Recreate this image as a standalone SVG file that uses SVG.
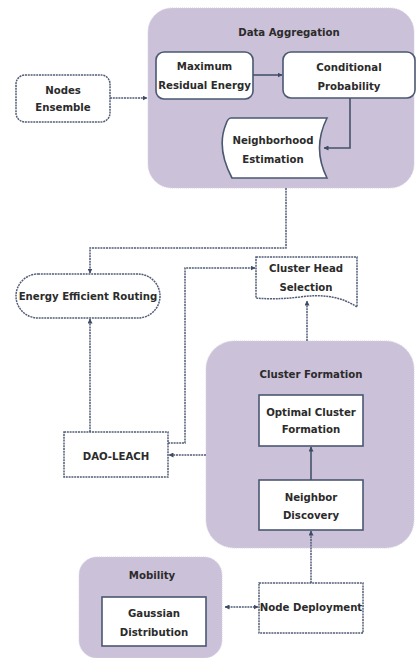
<svg xmlns="http://www.w3.org/2000/svg" width="416" height="658" viewBox="0 0 416 658">
<defs>
<style>
.grp{fill:#cbc1d9;stroke:#d6cfe0;stroke-width:1;stroke-dasharray:1 1}
.box{fill:#fff;stroke:#4a5872;stroke-width:1.6}
.dbox{fill:#fff;stroke:#525d77;stroke-width:1.5;stroke-dasharray:2 0.8}
.t{font-family:"DejaVu Sans Condensed","DejaVu Sans",sans-serif;font-weight:bold;font-size:11.3px;fill:#2b2b2b;text-anchor:middle}
.c{fill:none;stroke:#45526c;stroke-width:1.6}
.d{fill:none;stroke:#4f5b75;stroke-width:1.5;stroke-dasharray:2 0.8}
</style>
<marker id="ah" viewBox="0 0 10 10" refX="9" refY="5" markerWidth="5" markerHeight="5" orient="auto-start-reverse" markerUnits="userSpaceOnUse">
<path d="M0,0 L10,5 L0,10 Z" fill="#3e4b66"/>
</marker>
</defs>
<rect width="416" height="658" fill="#fff"/>

<g id="data-aggregation">
<rect class="grp" x="148" y="8" width="266" height="180" rx="24"/>
<text class="t" x="289" y="36">Data Aggregation</text>
</g>
<g id="cluster-formation">
<rect class="grp" x="206" y="341" width="208" height="207" rx="28"/>
<text class="t" x="311" y="378">Cluster Formation</text>
</g>
<g id="mobility">
<rect class="grp" x="79" y="557" width="143" height="101" rx="18"/>
<text class="t" x="152" y="579">Mobility</text>
</g>

<g id="nodes-ensemble">
<rect class="dbox" x="16" y="75" width="94" height="47" rx="9"/>
<text class="t" x="63" y="94">Nodes</text>
<text class="t" x="63" y="111">Ensemble</text>
</g>
<g id="max-residual-energy">
<rect class="box" x="156" y="52" width="97" height="47" rx="8"/>
<text class="t" x="204.5" y="70">Maximum</text>
<text class="t" x="204.5" y="89">Residual Energy</text>
</g>
<g id="conditional-probability">
<rect class="box" x="283" y="52" width="132" height="46" rx="8"/>
<text class="t" x="349" y="71">Conditional</text>
<text class="t" x="349" y="90">Probability</text>
</g>
<g id="neighborhood-estimation">
<path class="box" d="M231,118 L327,118 Q312,148 327,178 L232,178 Q216,148 226,124 Q228,118 231,118 Z"/>
<text class="t" x="273" y="144">Neighborhood</text>
<text class="t" x="273" y="163">Estimation</text>
</g>
<g id="energy-efficient-routing">
<rect class="dbox" x="16" y="274" width="144" height="44" rx="22"/>
<text class="t" x="88" y="300">Energy Efficient Routing</text>
</g>
<g id="cluster-head-selection">
<path class="dbox" d="M256,257 H357 V307 Q335,292 300,297 Q275,300 256,298 Z"/>
<text class="t" x="306" y="272">Cluster Head</text>
<text class="t" x="306" y="291">Selection</text>
</g>
<g id="dao-leach">
<rect class="dbox" x="64" y="432" width="104" height="45"/>
<text class="t" x="116" y="460">DAO-LEACH</text>
</g>
<g id="optimal-cluster-formation">
<rect class="box" x="259" y="395" width="104" height="51"/>
<text class="t" x="311" y="416">Optimal Cluster</text>
<text class="t" x="311" y="433">Formation</text>
</g>
<g id="neighbor-discovery">
<rect class="box" x="259" y="480" width="104" height="50"/>
<text class="t" x="311" y="501">Neighbor</text>
<text class="t" x="311" y="519">Discovery</text>
</g>
<g id="node-deployment">
<rect class="dbox" x="259" y="583" width="104" height="50"/>
<text class="t" x="311" y="611">Node Deployment</text>
</g>
<g id="gaussian-distribution">
<rect class="box" x="102" y="597" width="104" height="49"/>
<text class="t" x="154" y="617">Gaussian</text>
<text class="t" x="154" y="636">Distribution</text>
</g>

<g id="connectors">
<path class="d" d="M110,98 H147" marker-end="url(#ah)"/>
<path class="c" d="M253,75 H282" marker-end="url(#ah)"/>
<path class="c" d="M350,98 V148 H324" marker-end="url(#ah)"/>
<path class="d" d="M286,188 V248 H90 V273" marker-end="url(#ah)"/>
<path class="d" d="M168,443 H185 V268 H255" marker-end="url(#ah)"/>
<path class="d" d="M307,341 V301" marker-end="url(#ah)"/>
<path class="d" d="M90,432 V319" marker-end="url(#ah)"/>
<path class="d" d="M206,455 H169" marker-end="url(#ah)"/>
<path class="c" d="M311,480 V447" marker-end="url(#ah)"/>
<path class="d" d="M311,583 V531" marker-end="url(#ah)"/>
<path class="d" d="M225,607 H258" marker-start="url(#ah)" marker-end="url(#ah)"/>
</g>
</svg>
